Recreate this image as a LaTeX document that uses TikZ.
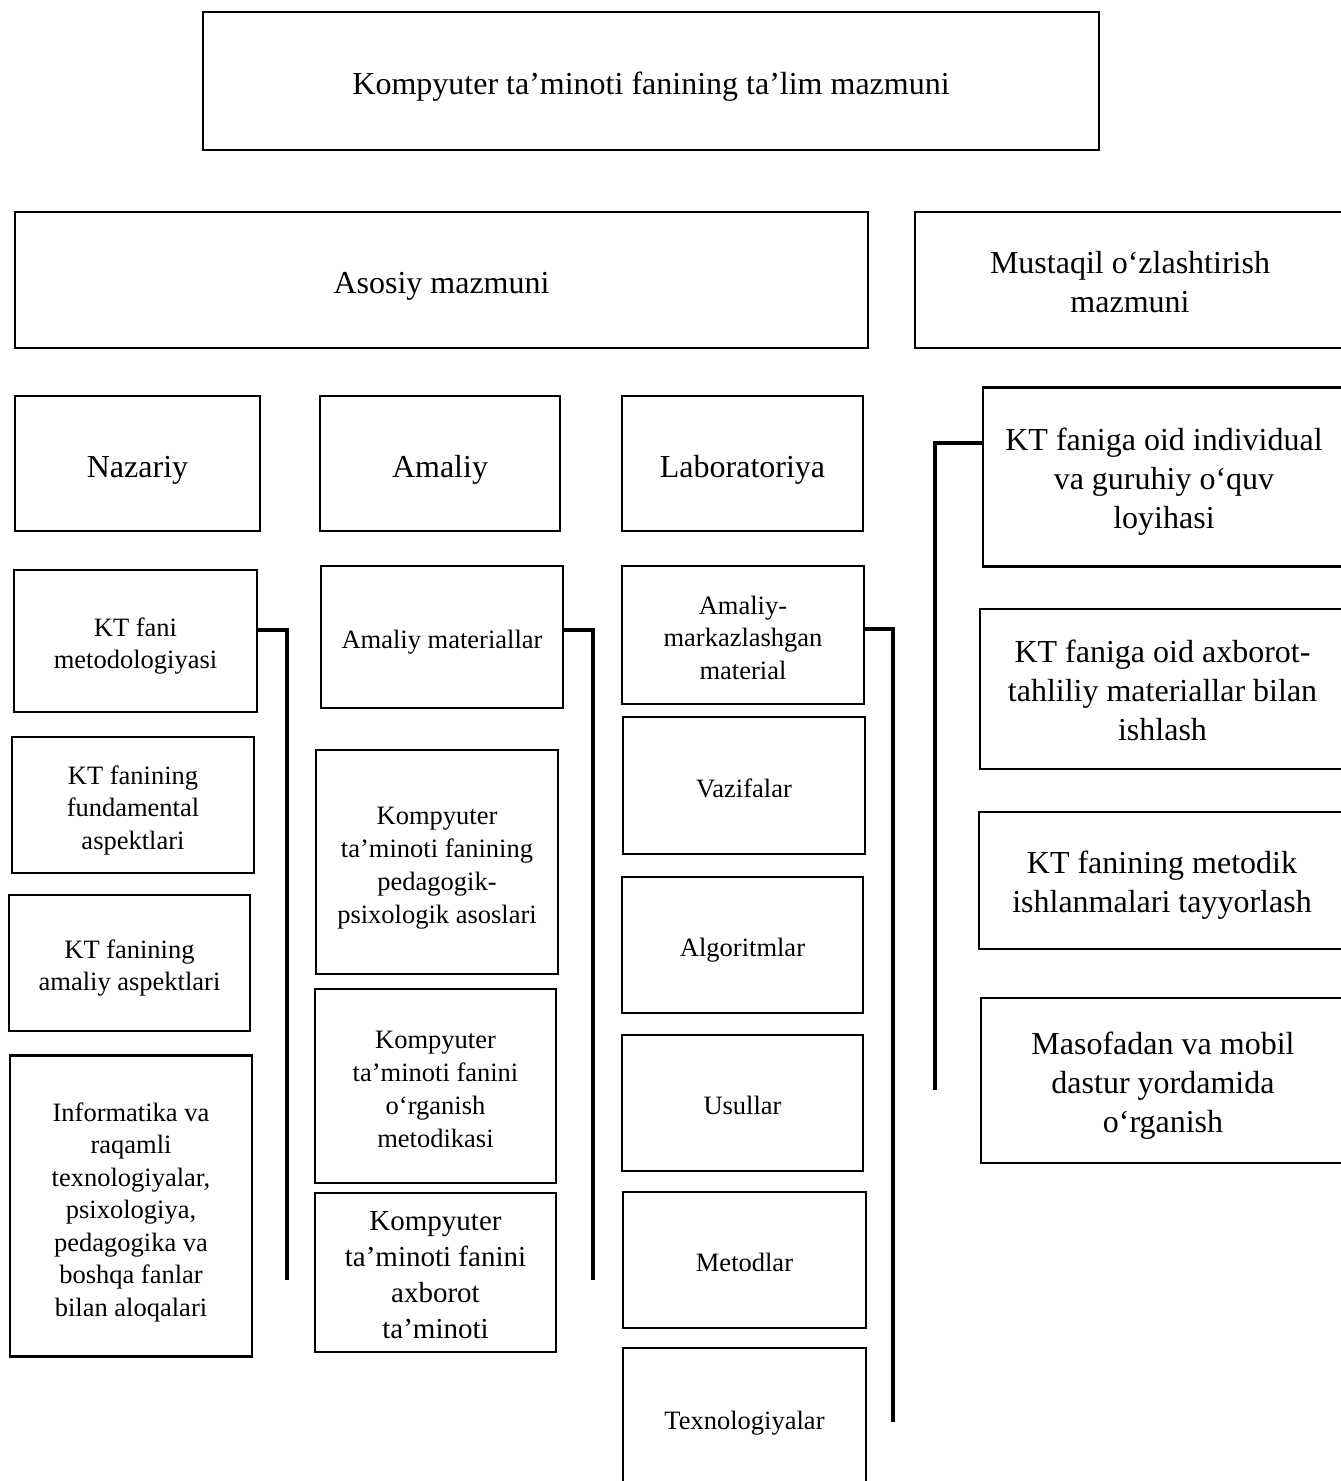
\documentclass[tikz,border=0pt]{standalone}
\usepackage{fontspec}
\setmainfont{Liberation Serif}
\newcommand\fbig{\fontsize{32}{39}\selectfont}
\newcommand\fmed{\fontsize{26.5}{32.5}\selectfont}
\newcommand\fmedb{\fontsize{26.5}{33}\selectfont}
\newcommand\fmid{\fontsize{29}{36}\selectfont}
% text block, lowered by #1 without changing its extents
\newcommand\tx[2]{\raisebox{-#1}[\height][\depth]{\begin{tabular}{@{}c@{}}#2\end{tabular}}}
\begin{document}
\begin{tikzpicture}[x=1pt,y=-1pt,
  box/.style={draw, line width=2.7pt, align=center, inner sep=0pt, fill=white},
  big/.style={box, font=\fbig},
  med/.style={box, font=\fmed},
  bracket/.style={draw, line width=4.8pt}]
\useasboundingbox (0,0) rectangle (1341,1481);
\fill[white] (0,0) rectangle (1341,1481);
% top
\node[big, minimum width=896, minimum height=138] (title) at (651,81) {\tx{6pt}{Kompyuter ta’minoti fanining ta’lim mazmuni}};
\node[big, minimum width=853, minimum height=136] (asosiy) at (441.5,280) {\tx{6pt}{Asosiy mazmuni}};
\node[big, minimum width=430, minimum height=136] (mustaqil) at (1130,280) {\tx{5pt}{Mustaqil o‘zlashtirish\\mazmuni}};
\node[big, minimum width=245, minimum height=135] (nazariy) at (137.5,463.5) {\tx{6pt}{Nazariy}};
\node[big, minimum width=240, minimum height=135] (amaliy) at (440,463.5) {\tx{6pt}{Amaliy}};
\node[big, minimum width=241, minimum height=135] (lab) at (742.5,463.5) {\tx{6pt}{Laboratoriya}};
% column 1
\node[med, minimum width=243, minimum height=142] (a1) at (135.5,641) {\tx{5pt}{KT fani\\metodologiyasi}};
\node[med, minimum width=242, minimum height=136] (a2) at (133,805) {\tx{5pt}{KT fanining\\fundamental\\aspektlari}};
\node[med, minimum width=241, minimum height=136] (a3) at (129.5,963) {\tx{5pt}{KT fanining\\amaliy aspektlari}};
\node[med, minimum width=242, minimum height=301] (a4) at (131,1206) {\tx{6pt}{Informatika va\\raqamli\\texnologiyalar,\\psixologiya,\\pedagogika va\\boshqa fanlar\\bilan aloqalari}};
% column 2
\node[med, minimum width=242, minimum height=142] (b1) at (442,637) {\tx{5pt}{Amaliy materiallar}};
\node[med, font=\fmedb, minimum width=242, minimum height=224] (b2) at (437,862) {\tx{5pt}{Kompyuter\\ta’minoti fanining\\pedagogik-\\psixologik asoslari}};
\node[med, font=\fmedb, minimum width=241, minimum height=194] (b3) at (435.5,1086) {\tx{5pt}{Kompyuter\\ta’minoti fanini\\o‘rganish\\metodikasi}};
\node[box, font=\fmid, minimum width=241, minimum height=159] (b4) at (435.5,1272.5) {\tx{5pt}{Kompyuter\\ta’minoti fanini\\axborot\\ta’minoti}};
% column 3
\node[med, minimum width=242, minimum height=138] (c1) at (743,635) {\tx{5pt}{Amaliy-\\markazlashgan\\material}};
\node[med, minimum width=242, minimum height=137] (c2) at (744,785.5) {\tx{5pt}{Vazifalar}};
\node[med, minimum width=241, minimum height=136] (c3) at (742.5,945) {\tx{5pt}{Algoritmlar}};
\node[med, minimum width=241, minimum height=136] (c4) at (742.5,1103) {\tx{5pt}{Usullar}};
\node[med, minimum width=243, minimum height=136] (c5) at (744.5,1260) {\tx{5pt}{Metodlar}};
\node[med, minimum width=243, minimum height=140] (c6) at (744.5,1418) {\tx{5pt}{Texnologiyalar}};
% column 4
\node[big, minimum width=362, minimum height=179] (d1) at (1164,477) {\tx{5pt}{KT faniga oid individual\\va guruhiy o‘quv\\loyihasi}};
\node[big, minimum width=365, minimum height=160] (d2) at (1162.5,689) {\tx{5pt}{KT faniga oid axborot-\\tahliliy materiallar bilan\\ishlash}};
\node[big, minimum width=366, minimum height=137] (d3) at (1162,880.5) {\tx{5pt}{KT fanining metodik\\ishlanmalari tayyorlash}};
\node[big, minimum width=364, minimum height=165] (d4) at (1163,1080.5) {\tx{5pt}{Masofadan va mobil\\dastur yordamida\\o‘rganish}};
% connectors
\coordinate (aend) at (287,1280);
\coordinate (bend) at (593,1280);
\coordinate (cend) at (893,1422);
\coordinate (dend) at (935,1090);
\draw[bracket] ([yshift=11pt]a1.east) -| (aend);
\draw[bracket] ([yshift=7pt]b1.east) -| (bend);
\draw[bracket] ([yshift=6pt]c1.east) -| (cend);
\draw[bracket] ([yshift=34pt]d1.west) -| (dend);
\end{tikzpicture}
\end{document}
